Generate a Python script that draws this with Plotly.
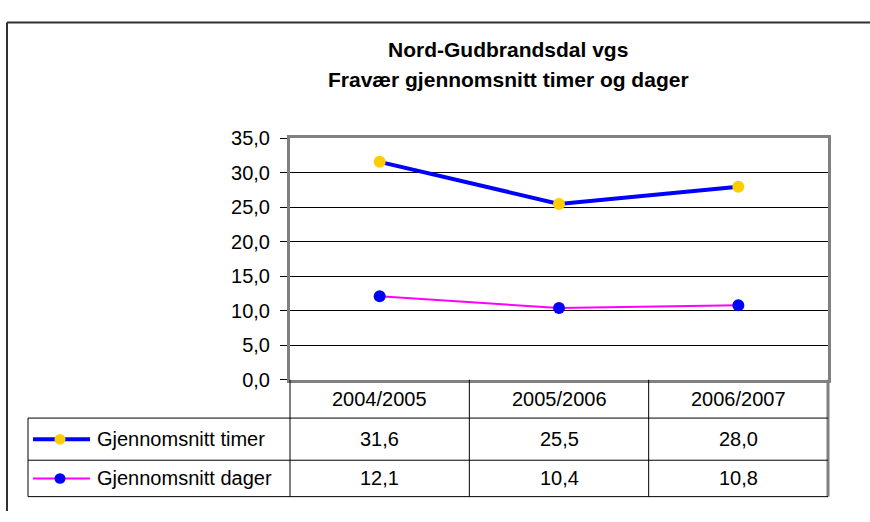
import plotly.graph_objects as go

categories = ["2004/2005", "2005/2006", "2006/2007"]
timer = [31.6, 25.5, 28.0]
dager = [12.1, 10.4, 10.8]
series_names = ["Gjennomsnitt timer", "Gjennomsnitt dager"]
title_lines = ["Nord-Gudbrandsdal vgs", "Fravær gjennomsnitt timer og dager"]

W, H = 870, 522
def px(x):
    return x / W
def py(y):
    return 1 - y / H

PL, PR, PT, PB = 290, 828, 133, 385
FONT = "Liberation Sans, Arial, sans-serif"

fig = go.Figure()
xs = list(range(len(categories)))
fig.add_trace(go.Scatter(x=xs, y=timer, mode="lines+markers",
                         line=dict(color="#0000FF", width=4),
                         marker=dict(color="#FFCC00", size=12),
                         name=series_names[0], showlegend=False))
fig.add_trace(go.Scatter(x=xs, y=dager, mode="lines+markers",
                         line=dict(color="#FF00FF", width=2),
                         marker=dict(color="#0000FF", size=12),
                         name=series_names[1], showlegend=False))

shapes = []
annotations = []
def line(x0, y0, x1, y1, color="black", width=1):
    shapes.append(dict(type="line", xref="paper", yref="paper",
                       x0=px(x0), y0=py(y0), x1=px(x1), y1=py(y1),
                       line=dict(color=color, width=width), layer="above"))

# outer frame
line(7, 522, 7, 12, "#303030", 2)
line(7, 12, 870, 12, "#303030", 2)

# table
col_edges = [PL + (PR - PL) * i / len(categories) for i in range(len(categories) + 1)]
row_y = [PB, 425, 469, 507]
legend_left = 28
for xe in col_edges[1:-1]:
    line(xe, PB, xe, row_y[-1])
line(PL, PB, PL, row_y[-1])
line(PR, PB, PR, row_y[-1], "#808080", 3)
for yy in row_y[1:]:
    line(legend_left, yy, PR, yy)
line(legend_left, row_y[1], legend_left, row_y[-1])

def text(x, y, s, anchor="center", size=20, bold=False):
    annotations.append(dict(x=px(x), y=py(y), xref="paper", yref="paper",
                            text=f"<b>{s}</b>" if bold else s, showarrow=False,
                            xanchor=anchor, yanchor="middle",
                            font=dict(family=FONT, size=size, color="black")))

def fmt(v):
    return f"{v:.1f}".replace(".", ",")

for i, c in enumerate(categories):
    cx = (col_edges[i] + col_edges[i + 1]) / 2
    text(cx, (row_y[0] + row_y[1]) / 2, c)
    text(cx, (row_y[1] + row_y[2]) / 2, fmt(timer[i]))
    text(cx, (row_y[2] + row_y[3]) / 2, fmt(dager[i]))

# legend keys
styles = [("#0000FF", 4, "#FFCC00"), ("#FF00FF", 2, "#0000FF")]
for k, (lc, lw, mc) in enumerate(styles):
    yc = (row_y[k + 1] + row_y[k + 2]) / 2
    line(33, yc, 90, yc, lc, lw)
    shapes.append(dict(type="circle", xref="paper", yref="paper",
                       x0=px(54.5), x1=px(65.5), y0=py(yc + 5.5), y1=py(yc - 5.5),
                       fillcolor=mc, line=dict(width=0), layer="above"))
    text(95, yc, series_names[k], anchor="left")

# title
text(508, 40, title_lines[0], size=21, bold=True)
text(508, 72, title_lines[1], size=21, bold=True)

fig.update_layout(
    width=W, height=H, margin=dict(l=0, r=0, t=0, b=0),
    paper_bgcolor="white", plot_bgcolor="white",
    separators=",.",
    shapes=shapes, annotations=annotations,
    xaxis=dict(domain=[px(PL), px(PR)], range=[-0.5, len(categories) - 0.5],
               showticklabels=False, ticks="", showgrid=False, zeroline=False,
               showline=True, linecolor="#808080", linewidth=3, mirror=True,
               fixedrange=True),
    yaxis=dict(domain=[py(PB), py(PT)], range=[0, 35], dtick=5, tickformat=".1f",
               showgrid=True, gridcolor="black", gridwidth=1, zeroline=False,
               showline=True, linecolor="#808080", linewidth=3, mirror=True,
               ticks="outside", ticklen=7, tickcolor="black", tickwidth=1,
               ticklabelstandoff=6,
               tickfont=dict(family=FONT, size=20, color="black"),
               fixedrange=True),
    showlegend=False,
)

fig.write_html("out.html", config={"displayModeBar": False},
               post_script="document.body.style.margin='0';document.body.style.overflow='hidden';")
